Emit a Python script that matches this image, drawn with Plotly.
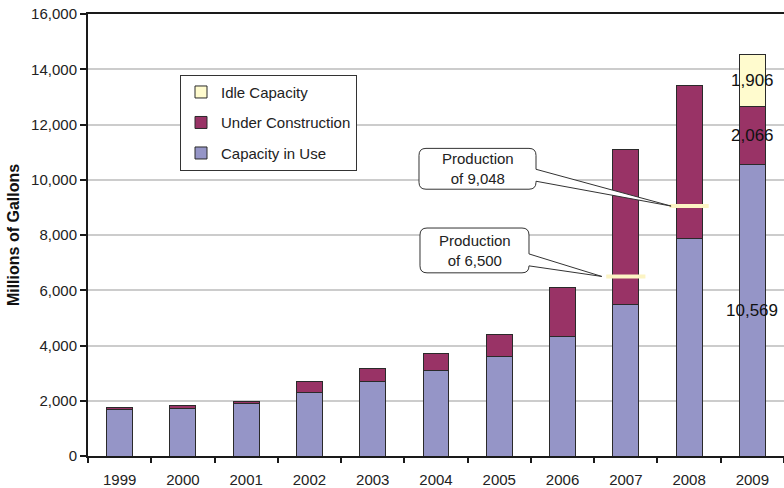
import plotly.graph_objects as go

years = ["1999", "2000", "2001", "2002", "2003", "2004", "2005", "2006", "2007", "2008", "2009"]
capacity_in_use = [1690, 1720, 1900, 2310, 2690, 3080, 3610, 4330, 5500, 7880, 10569]
under_construction = [75, 100, 70, 400, 470, 620, 775, 1760, 5600, 5520, 2066]
idle_capacity = [0, 0, 0, 0, 0, 0, 0, 0, 0, 0, 1906]
production_years = ["2007", "2008"]
production_values = [6500, 9048]
y_ticks = [0, 2000, 4000, 6000, 8000, 10000, 12000, 14000, 16000]

C_USE = "#9595C7"
C_UC = "#993366"
C_IDLE = "#FFFBCE"
C_PROD = "#FCF4C4"
EDGE = "#2a2a2a"
FONT = "Liberation Sans, Arial, sans-serif"

W, H = 784, 488
ML, MR, MT, MB = 88, 0, 14, 30
PW, PH = W - ML - MR, H - MT - MB
YMAX = 16000
N = len(years)

fig = go.Figure()
fig.add_trace(go.Bar(name="Capacity in Use", x=years, y=capacity_in_use,
                     marker=dict(color=C_USE, line=dict(color=EDGE, width=1)),
                     legendgroup="a", legendrank=3, width=0.41))
fig.add_trace(go.Bar(name="Under Construction", x=years, y=under_construction,
                     marker=dict(color=C_UC, line=dict(color=EDGE, width=1)),
                     legendgroup="b", legendrank=2, width=0.41))
fig.add_trace(go.Bar(name="Idle Capacity", x=years, y=idle_capacity,
                     marker=dict(color=C_IDLE, line=dict(color=EDGE, width=1)),
                     legendgroup="c", legendrank=1, width=0.41))
fig.add_trace(go.Scatter(x=production_years, y=production_values, mode="markers",
                         marker=dict(symbol="line-ew", size=28,
                                     line=dict(color=C_PROD, width=4)),
                         showlegend=False, hoverinfo="skip"))

# 2009 value labels
i9 = years.index("2009")
segs = [(0, capacity_in_use[i9]),
        (capacity_in_use[i9], capacity_in_use[i9] + under_construction[i9]),
        (capacity_in_use[i9] + under_construction[i9],
         capacity_in_use[i9] + under_construction[i9] + idle_capacity[i9])]
for lo, hi in segs:
    fig.add_annotation(x=i9, y=(lo + hi) / 2, text=f"{hi - lo:,}", showarrow=False,
                       font=dict(size=17, color="#111", family=FONT))


def px_to_paper(X, Y):
    return (X - ML) / PW, (H - MB - Y) / PH


def data_to_px(idx, v):
    return ML + (idx + 0.5) / N * PW, H - MB - v / YMAX * PH


def bubble(x0, y0, x1, y1, ya, yb, tx, ty, r=7):
    pts = [("M", x0 + r, y0), ("L", x1 - r, y0), ("Q", x1, y0, x1, y0 + r),
           ("L", x1, ya), ("L", tx, ty), ("L", x1, yb), ("L", x1, y1 - r),
           ("Q", x1, y1, x1 - r, y1), ("L", x0 + r, y1), ("Q", x0, y1, x0, y1 - r),
           ("L", x0, y0 + r), ("Q", x0, y0, x0 + r, y0)]
    s = ""
    for p in pts:
        cmd = p[0]
        coords = p[1:]
        parts = []
        for k in range(0, len(coords), 2):
            a, b = px_to_paper(coords[k], coords[k + 1])
            parts.append(f"{a:.5f},{b:.5f}")
        s += cmd + " ".join(parts) + " "
    return s + "Z"


boxes = {"2008": (419, 149, 536, 190, 170, 182),
         "2007": (420, 229, 529, 274, 255, 267)}
for yr, val in zip(production_years, production_values):
    idx = years.index(yr)
    cx, cy = data_to_px(idx, val)
    tx = cx - 18 if yr == "2008" else cx - 24
    x0, y0, x1, y1, ya, yb = boxes[yr]
    fig.add_shape(type="path", xref="paper", yref="paper",
                  path=bubble(x0, y0, x1, y1, ya, yb, tx, cy),
                  fillcolor="white", line=dict(color="#333", width=1), layer="above")
    ax, ay = px_to_paper((x0 + x1) / 2, (y0 + y1) / 2)
    fig.add_annotation(xref="paper", yref="paper", x=ax, y=ay,
                       text=f"Production<br>of {val:,}", showarrow=False,
                       font=dict(size=15, color="#222", family=FONT))

# darker 8,000 gridline
fig.add_shape(type="line", xref="paper", yref="y", x0=0, x1=1, y0=8000, y1=8000,
              line=dict(color="#8a8a8a", width=1.5), layer="below")

lx, ly = px_to_paper(180, 75)
fig.update_layout(
    width=W, height=H, barmode="stack",
    margin=dict(l=ML, r=MR, t=MT, b=MB),
    paper_bgcolor="white", plot_bgcolor="white",
    font=dict(family=FONT, size=15, color="#222"),
    legend=dict(x=lx, y=ly, xanchor="left", yanchor="top",
                traceorder="grouped", tracegroupgap=8,
                bordercolor="#333", borderwidth=1, bgcolor="white",
                font=dict(size=15, color="#222")),
    xaxis=dict(type="category", range=[-0.5, N - 0.5], showgrid=False,
               showline=True, linecolor="#1a1a1a", linewidth=2, mirror=True,
               ticks="outside", tickson="boundaries", ticklen=5, tickwidth=2,
               tickcolor="#1a1a1a", tickfont=dict(size=15, color="#222"),
               ticklabelstandoff=9),
    yaxis=dict(range=[0, YMAX], tickvals=y_ticks, tickformat=",",
               showgrid=True, gridcolor="#cccccc", gridwidth=1.5,
               showline=True, linecolor="#1a1a1a", linewidth=2,
               ticks="outside", ticklen=6, tickwidth=1.5, tickcolor="#1a1a1a",
               tickfont=dict(size=15, color="#222"), zeroline=False,
               ticklabeloverflow="allow",
               title=dict(text="<b>Millions of Gallons</b>", standoff=8,
                          font=dict(size=16, color="#111"))),
)

fig.write_html("out.html", config={"displayModeBar": False},
               post_script="document.body.style.margin='0';document.body.style.overflow='hidden';")
